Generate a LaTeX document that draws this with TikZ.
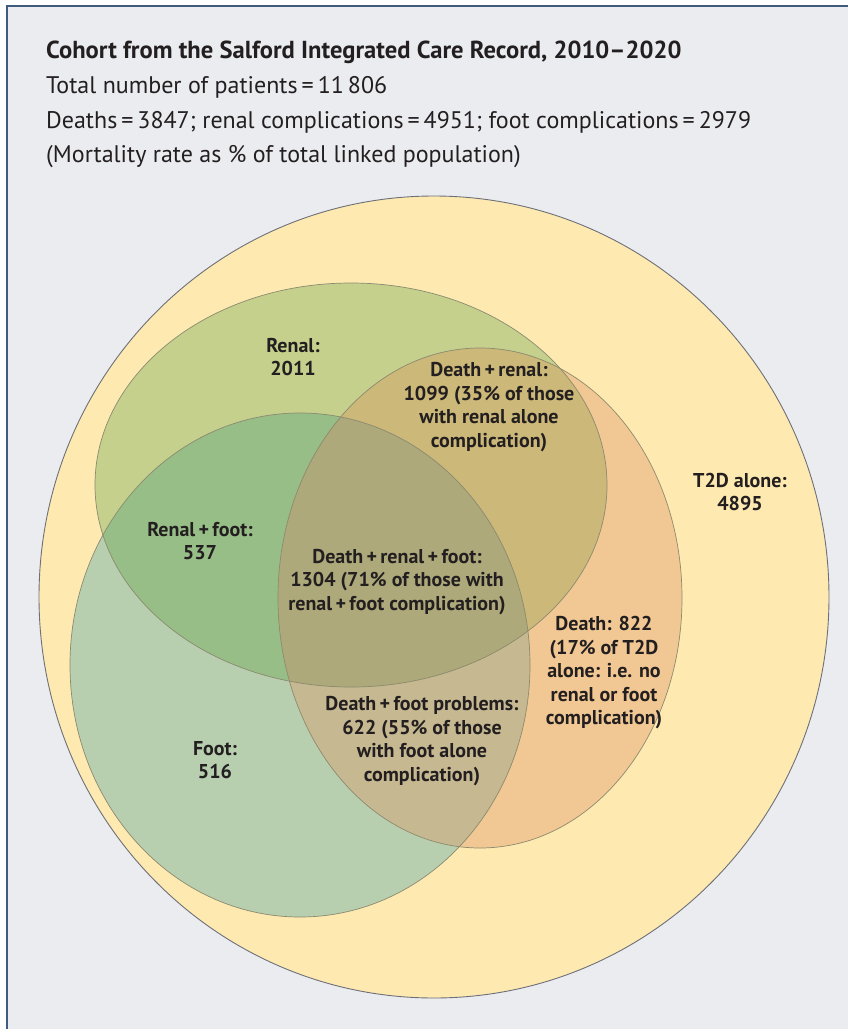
\documentclass[tikz,border=0pt]{standalone}
\usepackage{fontspec}
\setmainfont{PT Sans}
\begin{document}
\begin{tikzpicture}[x=1pt,y=-1pt]
\definecolor{bg}{HTML}{EBECF0}
\definecolor{framec}{HTML}{3E5A7C}
\definecolor{yel}{HTML}{FEE9B0}
\definecolor{ren}{HTML}{C4D08C}
\definecolor{foo}{HTML}{B7CFAF}
\definecolor{dea}{HTML}{F1C893}
\definecolor{rf}{HTML}{97BE86}
\definecolor{rd}{HTML}{CCB878}
\definecolor{fd}{HTML}{C6B890}
\definecolor{rfd}{HTML}{ADA97A}
\definecolor{txt}{HTML}{231F20}
\definecolor{bigedge}{HTML}{6D7078}
\definecolor{edge}{HTML}{8C8A70}
\tikzset{
  bord/.style={draw=edge, line width=0.7pt},
  lab/.style={align=center, text=txt, font=\bfseries\fontsize{20}{23.5}\selectfont, inner sep=0pt},
  head/.style={anchor=base west, text=txt, inner sep=0pt, font=\fontsize{24}{27}\selectfont},
  renalE/.style={insert path={(351,485) ellipse [x radius=256pt, y radius=202pt]}},
  footE/.style={insert path={(300,665) ellipse [x radius=230pt, y radius=252pt]}},
  deathE/.style={insert path={(480,598) ellipse [x radius=202pt, y radius=250pt]}},
  bigE/.style={insert path={(434,597) ellipse [x radius=395pt, y radius=401pt]}}
}
\useasboundingbox (0,0) rectangle (848,1029);
\fill[bg] (7,6) rectangle (848,1029);
\draw[framec, line width=2.2pt] (7,1029) -- (7,6) -- (848,6);

% header
\node[head, font=\bfseries\fontsize{24.6}{28}\selectfont] (title) at (46,58) {Cohort from the Salford Integrated Care Record, 2010–2020};
\node[head] (l1) at (46,93) {Total number of patients\,=\,11\,806};
\node[head] (l2) at (46,128) {Deaths\,=\,3847; renal complications\,=\,4951; foot complications\,=\,2979};
\node[head] (l3) at (46,162) {(Mortality rate as \% of total linked population)};

% regions
\fill[yel, bigE];
\fill[ren, renalE];
\fill[foo, footE];
\fill[dea, deathE];
\begin{scope}
  \clip[footE];
  \fill[fd, deathE];
\end{scope}
\begin{scope}
  \clip[renalE];
  \fill[rf, footE];
  \fill[rd, deathE];
  \clip[footE];
  \fill[rfd, deathE];
\end{scope}
\draw[draw=bigedge, line width=0.9pt, bigE];
\draw[bord, renalE];
\draw[bord, footE];
\draw[bord, deathE];

% labels
\node[lab] (renal) at (293,357) {Renal:\\2011};
\node[lab] (dr) at (489,407) {Death\,+\,renal:\\1099 (35\% of those\\with renal alone\\complication)};
\node[lab] (t2d) at (740,492) {T2D alone:\\4895};
\node[lab] (rf) at (200,541) {Renal\,+\,foot:\\537};
\node[lab] (drf) at (397,582) {Death\,+\,renal\,+\,foot:\\1304 (71\% of those with\\renal\,+\,foot complication)};
\node[lab] (d) at (604,673) {Death: 822\\(17\% of T2D\\alone: i.e. no\\renal or foot\\complication)};
\node[lab] (df) at (422,741) {Death\,+\,foot problems:\\622 (55\% of those\\with foot alone\\complication)};
\node[lab] (foot) at (215,760) {Foot:\\516};
\end{tikzpicture}
\end{document}
